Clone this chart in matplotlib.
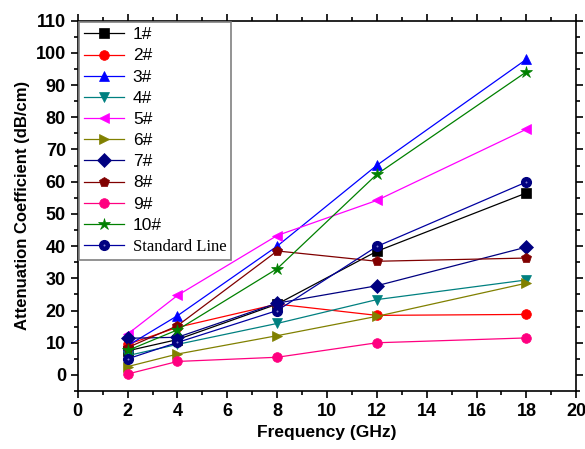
import matplotlib
matplotlib.use('Agg')
import matplotlib.pyplot as plt
from matplotlib.ticker import MultipleLocator
from matplotlib.font_manager import FontProperties

# frequency points (GHz)
freq = [2, 4, 8, 12, 18]

# attenuation coefficient (dB/cm) per sample
s1 = [7.5, 11.0, 22.0, 38.4, 56.5]
s2 = [9.5, 14.8, 22.0, 18.5, 18.8]
s3 = [9.1, 18.4, 40.0, 65.1, 98.0]
s4 = [6.0, 9.5, 16.0, 23.4, 29.5]
s5 = [12.7, 24.7, 43.3, 54.2, 76.3]
s6 = [2.6, 6.5, 12.2, 18.2, 28.5]
s7 = [11.4, 11.7, 22.3, 27.7, 39.7]
s8 = [8.5, 15.3, 38.5, 35.3, 36.3]
s9 = [0.3, 4.2, 5.5, 10.0, 11.5]
s10 = [7.6, 14.0, 33.0, 62.3, 94.1]
std = [5.0, 10.1, 20.0, 39.9, 59.9]

labels = ['1#', '2#', '3#', '4#', '5#', '6#', '7#', '8#', '9#', '10#']
series = [s1, s2, s3, s4, s5, s6, s7, s8, s9, s10]
colors = ['black', 'red', 'blue', '#008080', 'magenta', '#808000',
          '#000080', '#800000', '#FF0080', '#008000']
markers = ['s', 'o', '^', 'v', '<', '>', 'D', 'p', 'o', '*']

fig = plt.figure(figsize=(5.85, 4.49), dpi=100)
ax = fig.add_axes([0.133, 0.129, 0.852, 0.825])

handles = []
for y, lab, c, m in zip(series, labels, colors, markers):
    ms = 9 if m == '*' else 7
    h, = ax.plot(freq, y, color=c, marker=m, markersize=ms, linewidth=0.9,
                 markeredgewidth=0.5, markeredgecolor=c, label=lab)
    handles.append(h)

# standard line: navy ball marker with light highlight
hs, = ax.plot(freq, std, color='#0000A0', marker='o', markersize=7,
              markerfacecolor='#000080', markeredgecolor='#000080', linewidth=0.9)
hd, = ax.plot(freq, std, linestyle='none', marker='o', markersize=1.4,
              markerfacecolor='#8080D0', markeredgecolor='none')

leg = ax.legend(handles + [(hs, hd)], labels + ['Standard Line'],
                loc='upper left', bbox_to_anchor=(0.0, 1.0),
                prop=FontProperties(family='Liberation Sans', size=12),
                handlelength=2.4, handletextpad=0.5, labelspacing=0.37,
                borderpad=0.3, borderaxespad=0.1, fancybox=False,
                framealpha=1, edgecolor='#808080')
leg.get_frame().set_linewidth(1.2)
for t in leg.get_texts()[:-1]:
    t.set_fontproperties(FontProperties(family=['Liberation Sans'], size=12.5))
leg.get_texts()[-1].set_fontproperties(FontProperties(family=['Liberation Serif'], size=12))

ax.set_xlim(0, 20)
ax.set_ylim(-5, 110)
ax.xaxis.set_major_locator(MultipleLocator(2))
ax.xaxis.set_minor_locator(MultipleLocator(1))
ax.yaxis.set_major_locator(MultipleLocator(10))
ax.yaxis.set_minor_locator(MultipleLocator(5))
ax.set_yticks(range(0, 111, 10))

ax.tick_params(which='both', direction='out', top=True, right=True,
               width=1.2, colors='black')
ax.tick_params(which='major', length=5)
ax.tick_params(which='minor', length=3)
for lbl in ax.get_xticklabels() + ax.get_yticklabels():
    lbl.set_family('Liberation Sans')
    lbl.set_fontweight('bold')
    lbl.set_fontsize(13)
for sp in ax.spines.values():
    sp.set_linewidth(1.2)

ax.set_xlabel('Frequency (GHz)', family='Liberation Sans', fontweight='bold',
              fontsize=12.5, labelpad=4)
ax.set_ylabel('Attenuation Coefficient (dB/cm)', family='Liberation Sans',
              fontweight='bold', fontsize=12, labelpad=4)

fig.savefig('out.png', dpi=100)
